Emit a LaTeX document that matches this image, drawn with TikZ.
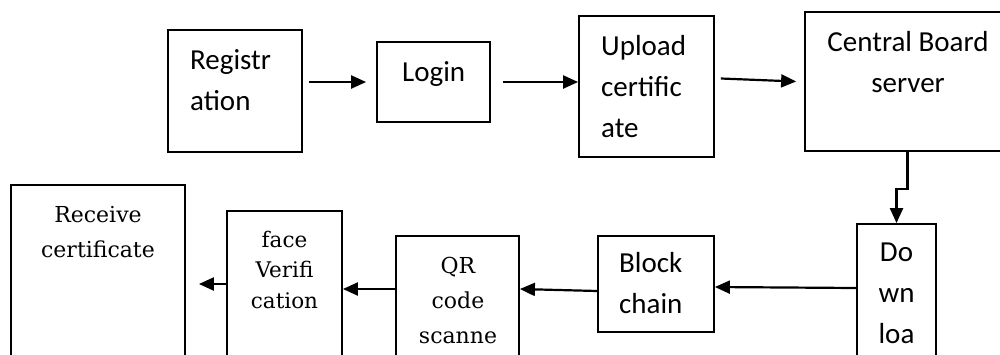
\documentclass[tikz,border=0pt]{standalone}
\usepackage{fontspec}
\usetikzlibrary{arrows.meta,calc}
\newfontfamily\calibrifont{Carlito}
\newfontfamily\cambriafont{DejaVu Serif}
\tikzset{
  box/.style={draw=black, line width=1.8pt, inner sep=0pt, fill=none},
  arr/.style={draw=black, line width=2.2pt, -{Triangle[length=15pt,width=13pt]}},
  sanstxt/.style={inner sep=0pt, font=\calibrifont\fontsize{29}{41}\selectfont},
  seriftxt/.style={inner sep=0pt, font=\cambriafont\fontsize{22}{35}\selectfont},
}
\begin{document}
\begin{tikzpicture}[x=1pt,y=-1pt]
\useasboundingbox (0,0) rectangle (1000,354);
\clip (0,0) rectangle (1000,354);
\fill[white] (0,0) rectangle (1000,354);
% top row boxes
\node[box, minimum width=134pt, minimum height=122pt] (reg) at (235,91) {};
\node[box, minimum width=113pt, minimum height=80pt] (login) at (433.5,82) {};
\node[box, minimum width=135pt, minimum height=141pt] (upload) at (646.5,86.5) {};
\node[box, minimum width=205pt, minimum height=139pt] (central) at (907.5,81.5) {};
% bottom row boxes
\node[box, minimum width=79pt, minimum height=176pt] (download) at (896.5,312) {};
\node[box, minimum width=116pt, minimum height=96pt] (block) at (656,284) {};
\node[box, minimum width=123pt, minimum height=164pt] (qr) at (457.5,318) {};
\node[box, minimum width=115pt, minimum height=189pt] (face) at (284.5,305.5) {};
\node[box, minimum width=174pt, minimum height=215pt] (receive) at (98,292.5) {};
% texts (base anchor = baseline of the last line)
\node[sanstxt, anchor=base west, align=left] (treg) at (190,110) {Registr\\ation};
\node[sanstxt, anchor=base west, align=left] (tlogin) at (402,81) {Login};
\node[sanstxt, anchor=base west, align=left] (tupload) at (601,137) {Upload\\certific\\ate};
\node[sanstxt, anchor=base, align=center] (tcentral) at (908,92) {Central Board\\server};
\node[sanstxt, anchor=base, align=center] (tdownload) at (896.5,343) {Do\\wn\\loa};
\node[sanstxt, anchor=base west, align=left] (tblock) at (619,313) {Block\\chain};
\node[seriftxt, anchor=base, align=center] (tqr) at (458,343) {QR\\code\\scanne};
\node[seriftxt, anchor=base, align=center, font=\cambriafont\fontsize{21.5}{30.5}\selectfont] (tface) at (284.5,308) {face\\Verifi\\cation};
\node[seriftxt, anchor=base, align=center] (treceive) at (98,257) {Receive\\certificate};
% connectors
\draw[arr] ([xshift=6pt]reg.east |- login.west) -- ([xshift=-10pt]login.west);
\draw[arr] ([xshift=12pt]login.east) -- (login.east -| upload.west);
\draw[arr] ([shift={(6pt,8pt)}]upload.east) -- ([xshift=-8pt]central.west);
\draw[arr] (central.south) -- ++(0pt,-37pt) -| (download.north);
\draw[arr] ([yshift=24pt]download.west) -- ([yshift=-3pt]block.east);
\draw[arr] ([yshift=-7pt]block.west) -- ([yshift=29pt]qr.east);
\draw[arr] ([yshift=29pt]qr.west) -- ([yshift=16.5pt]face.east);
\draw[arr] ([yshift=21.5pt]face.west) -- ([shift={(13pt,8.5pt)}]receive.east);
\end{tikzpicture}
\end{document}
